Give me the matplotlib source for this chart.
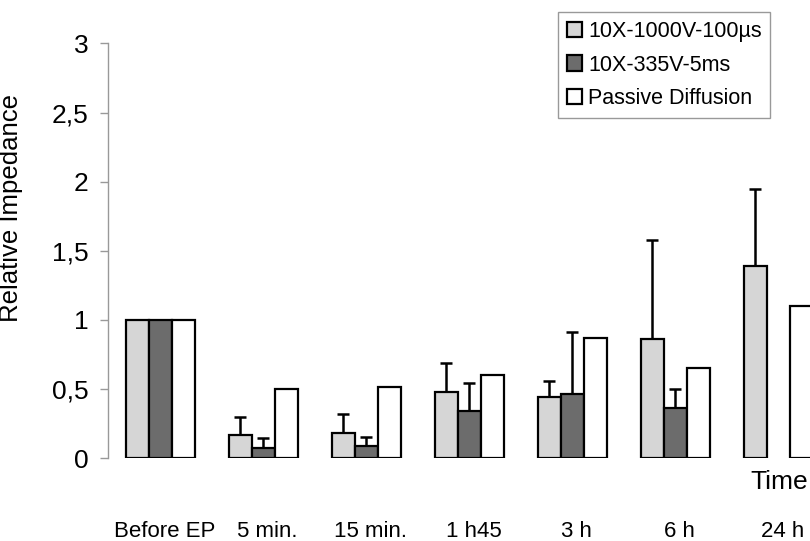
import numpy as np
import matplotlib
matplotlib.use('Agg')
import matplotlib.pyplot as plt

plt.rcParams['font.family'] = ['Liberation Sans', 'DejaVu Sans']

# data
time_labels = ['Before EP', '5 min.', '15 min.', '1 h45', '3 h', '6 h', '24 h']
series_names = ['10X-1000V-100µs', '10X-335V-5ms', 'Passive Diffusion']

imp_1000v = [1.0, 0.17, 0.18, 0.48, 0.445, 0.86, 1.39]
err_1000v = [0.0, 0.13, 0.14, 0.21, 0.115, 0.72, 0.56]
imp_335v = [1.0, 0.075, 0.09, 0.34, 0.465, 0.36, np.nan]
err_335v = [0.0, 0.07, 0.06, 0.20, 0.445, 0.14, 0.0]
imp_passive = [1.0, 0.50, 0.515, 0.60, 0.87, 0.655, 1.10]

yticks = [0, 0.5, 1, 1.5, 2, 2.5, 3]
ytick_labels = ['0', '0,5', '1', '1,5', '2', '2,5', '3']

colors = ['#d6d6d6', '#6c6c6c', '#ffffff']
bar_w = 0.226

fig = plt.figure(figsize=(8.10, 5.41), dpi=100)
ax = fig.add_axes([0.1333, 0.1534, 0.8926, 0.7662])

x = np.arange(len(time_labels))
values = [imp_1000v, imp_335v, imp_passive]
errors = [err_1000v, err_335v, None]

for i, (vals, errs) in enumerate(zip(values, errors)):
    pos = x + (i - 1) * bar_w
    vals = np.array(vals, dtype=float)
    ax.bar(pos, vals, width=bar_w, color=colors[i], edgecolor='black',
           linewidth=1.6, label=series_names[i], zorder=2)
    if errs is not None:
        errs = np.array(errs)
        m = errs > 0
        ax.errorbar(pos[m], vals[m], yerr=[np.zeros(m.sum()), errs[m]],
                    fmt='none', ecolor='black', elinewidth=1.8, capsize=4.5,
                    capthick=1.8, zorder=1)

ax.set_xlim(-0.51, 6.51)
ax.set_ylim(0, 3)
ax.set_yticks(yticks)
ax.set_yticklabels(ytick_labels, fontsize=19)
ax.set_xticks(x + 0.04)
ax.set_xticklabels(time_labels, fontsize=16)
ax.tick_params(axis='x', length=0, pad=45)
ax.tick_params(axis='y', length=6, width=1, color='#999999', pad=8)

for s in ['top', 'right', 'bottom']:
    ax.spines[s].set_visible(False)
ax.spines['left'].set_color('#999999')
ax.spines['left'].set_linewidth(1)

ax.set_ylabel('Relative Impedance', fontsize=18.5)
ax.yaxis.set_label_coords(-0.118, 0.603)

fig.text(750 / 810, 1 - 482 / 541, 'Time', fontsize=19, ha='left', va='center')

leg = ax.legend(loc='upper left', bbox_to_anchor=(558 / 810, 1 - 12 / 541),
                bbox_transform=fig.transFigure, fontsize=15.5, frameon=True,
                fancybox=False, framealpha=1, edgecolor='#999999',
                handlelength=0.7, handleheight=0.7, handletextpad=0.3,
                labelspacing=0.6, borderpad=0.4, borderaxespad=0)
leg.get_frame().set_linewidth(1)

fig.savefig('out.png', dpi=100)
